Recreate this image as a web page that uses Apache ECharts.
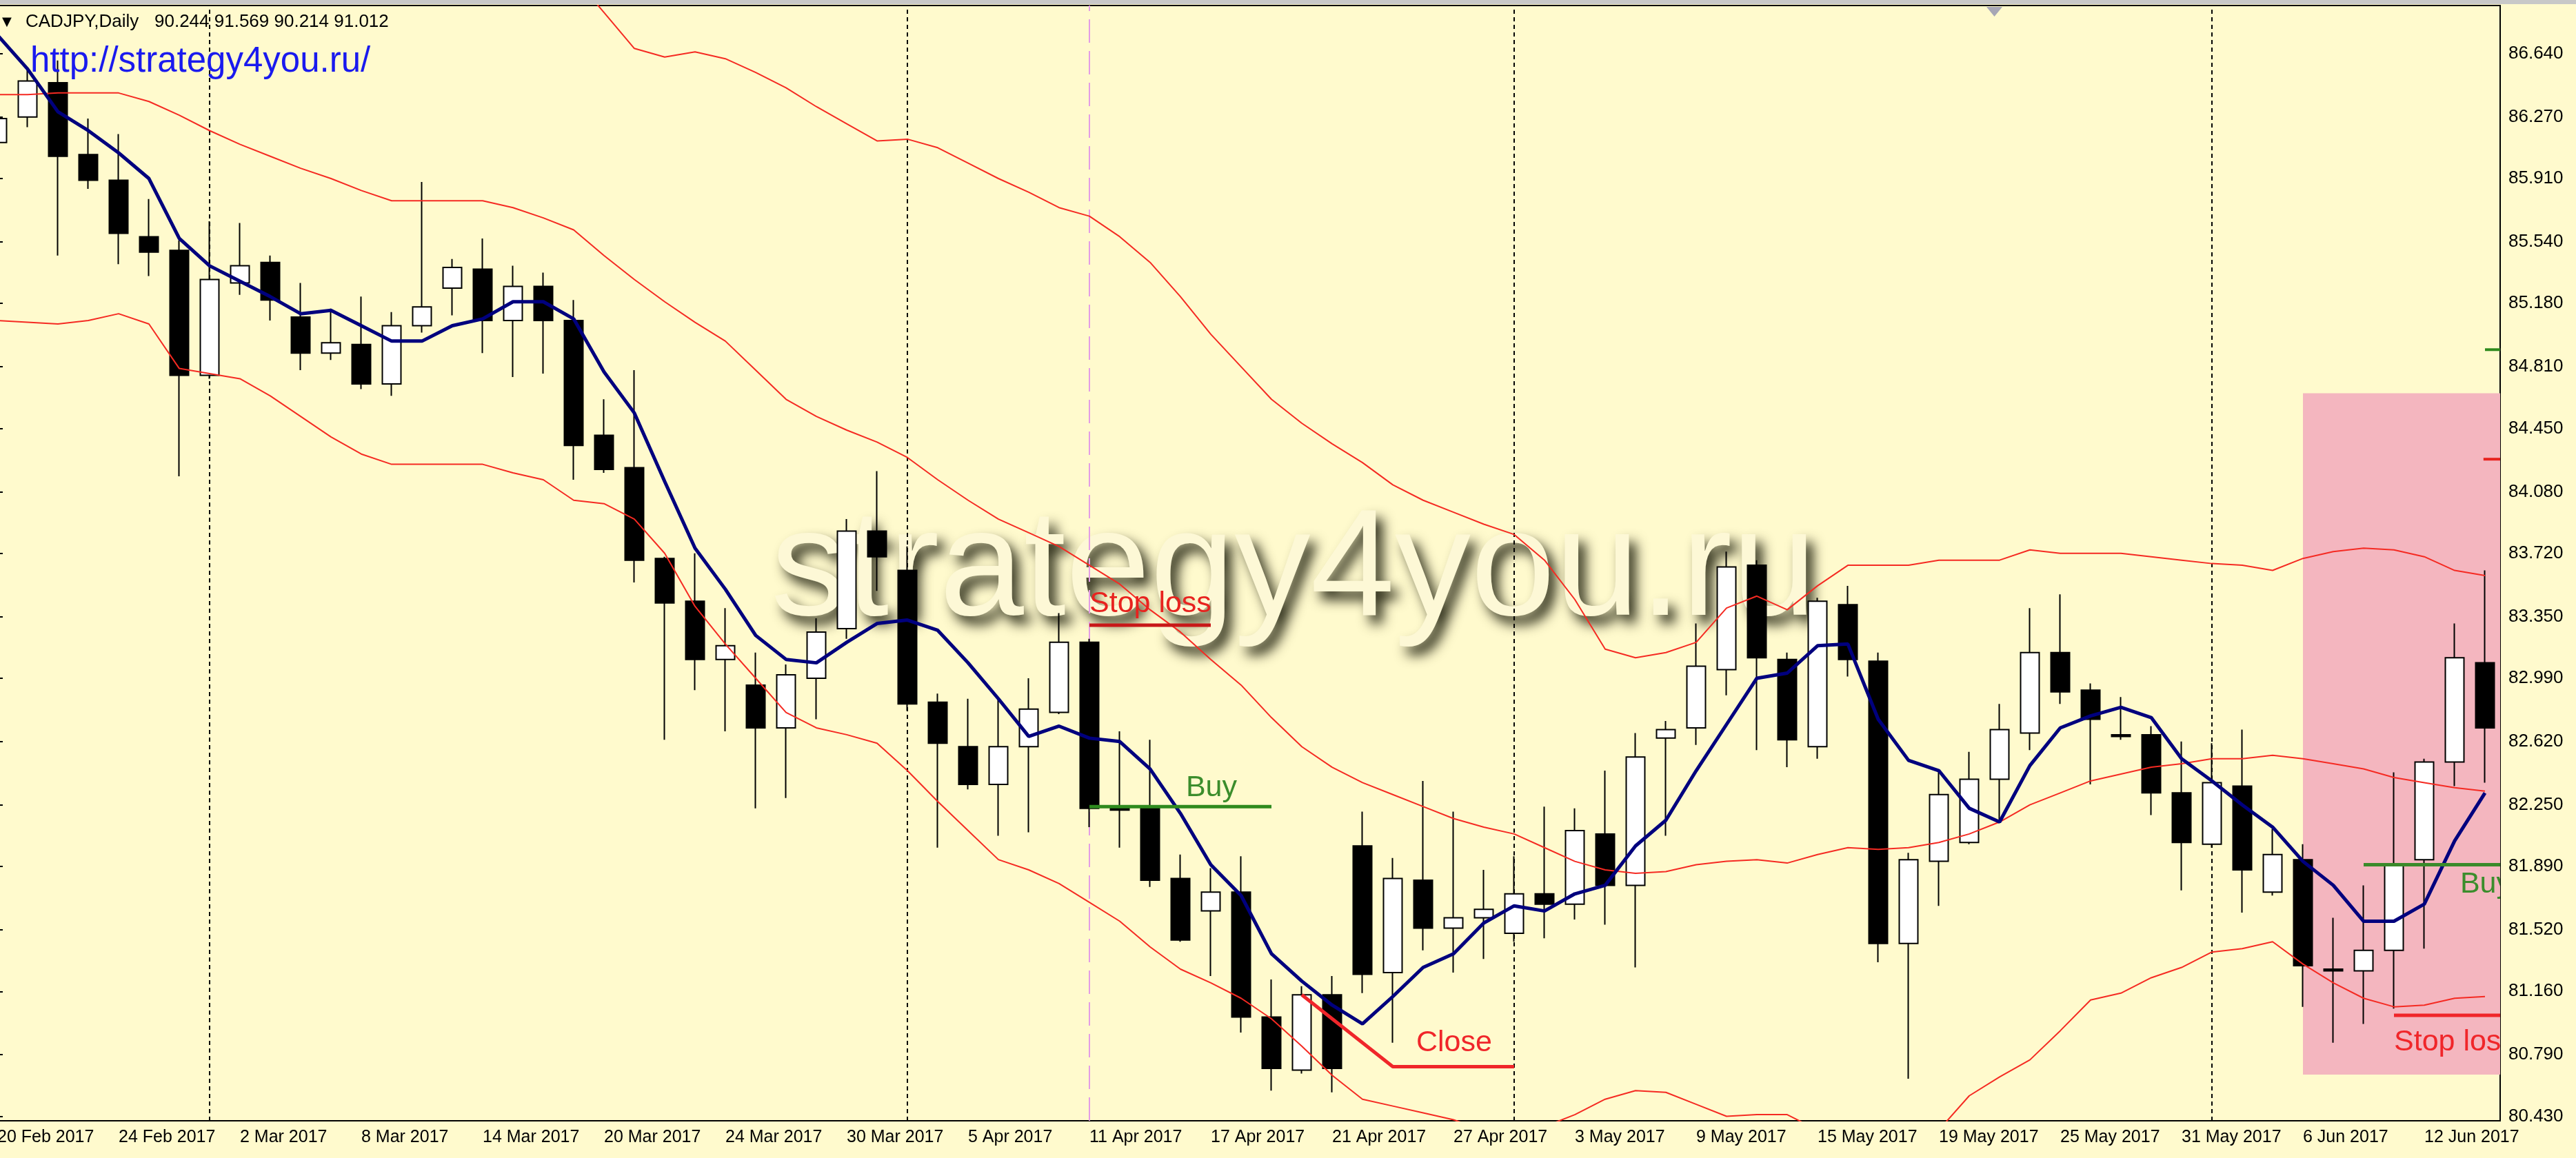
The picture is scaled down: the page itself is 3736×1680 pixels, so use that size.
<!DOCTYPE html>
<html>
<head>
<meta charset="utf-8">
<title>CADJPY, Daily</title>
<script src="https://cdn.jsdelivr.net/npm/echarts@6/dist/echarts.min.js"></script>
<style>
  html, body { margin: 0; padding: 0; background: #fffacd; overflow: hidden; }
  #chart { width: 3736px; height: 1680px; }
</style>
</head>
<body>
<div id="chart"></div>
<script>
// trading days shown on the chart
var dates = ['20 Feb 2017','21 Feb 2017','22 Feb 2017','23 Feb 2017','24 Feb 2017','27 Feb 2017','28 Feb 2017',
  '1 Mar 2017','2 Mar 2017','3 Mar 2017','6 Mar 2017','7 Mar 2017','8 Mar 2017','9 Mar 2017','10 Mar 2017',
  '13 Mar 2017','14 Mar 2017','15 Mar 2017','16 Mar 2017','17 Mar 2017','20 Mar 2017','21 Mar 2017','22 Mar 2017',
  '23 Mar 2017','24 Mar 2017','27 Mar 2017','28 Mar 2017','29 Mar 2017','30 Mar 2017','31 Mar 2017',
  '3 Apr 2017','4 Apr 2017','5 Apr 2017','6 Apr 2017','7 Apr 2017','10 Apr 2017','11 Apr 2017','12 Apr 2017',
  '13 Apr 2017','14 Apr 2017','17 Apr 2017','18 Apr 2017','19 Apr 2017','20 Apr 2017','21 Apr 2017','24 Apr 2017',
  '25 Apr 2017','26 Apr 2017','27 Apr 2017','28 Apr 2017',
  '1 May 2017','2 May 2017','3 May 2017','4 May 2017','5 May 2017','8 May 2017','9 May 2017','10 May 2017',
  '11 May 2017','12 May 2017','15 May 2017','16 May 2017','17 May 2017','18 May 2017','19 May 2017','22 May 2017',
  '23 May 2017','24 May 2017','25 May 2017','26 May 2017','29 May 2017','30 May 2017','31 May 2017',
  '1 Jun 2017','2 Jun 2017','5 Jun 2017','6 Jun 2017','7 Jun 2017','8 Jun 2017','9 Jun 2017','12 Jun 2017',
  '13 Jun 2017','14 Jun 2017'];

var opens = [86.12, 86.27, 86.47, 86.05, 85.90, 85.57, 85.49, 84.76, 85.30, 85.42,
  85.10, 84.89, 84.94, 84.71, 85.05, 85.27, 85.38, 85.08, 85.28, 85.08,
  84.41, 84.22, 83.69, 83.44, 83.10, 82.95, 82.70, 82.99, 83.28, 83.85,
  83.62, 82.85, 82.59, 82.37, 82.59, 82.79, 83.20, 82.24, 82.23, 81.82,
  81.63, 81.74, 81.01, 80.70, 81.14, 82.01, 81.27, 81.81, 81.53, 81.59,
  81.50, 81.73, 81.67, 82.08, 81.78, 82.64, 82.70, 83.04, 83.65, 83.10,
  82.59, 83.42, 83.09, 81.44, 81.92, 82.03, 82.40, 82.67, 83.14, 82.92,
  82.66, 82.66, 82.32, 82.02, 82.36, 81.74, 81.93, 81.29, 81.28, 81.40,
  81.93, 82.50, 83.08];
var closes = [86.26, 86.48, 86.04, 85.90, 85.59, 85.48, 84.76, 85.32, 85.40, 85.20,
  84.89, 84.95, 84.71, 85.05, 85.16, 85.39, 85.08, 85.28, 85.08, 84.35,
  84.21, 83.68, 83.43, 83.10, 83.18, 82.70, 83.01, 83.26, 83.85, 83.70,
  82.84, 82.61, 82.37, 82.59, 82.81, 83.20, 82.23, 82.22, 81.81, 81.46,
  81.74, 81.01, 80.71, 81.14, 80.71, 81.26, 81.82, 81.53, 81.59, 81.64,
  81.73, 81.67, 82.10, 81.78, 82.53, 82.69, 83.06, 83.64, 83.11, 82.63,
  83.44, 83.10, 81.44, 81.93, 82.31, 82.40, 82.69, 83.14, 82.91, 82.75,
  82.65, 82.32, 82.03, 82.38, 81.87, 81.96, 81.31, 81.28, 81.40, 81.90,
  82.50, 83.11, 82.70];
var lows = [86.08, 86.21, 85.46, 85.85, 85.41, 85.34, 84.17, 84.74, 85.23, 85.08,
  84.79, 84.85, 84.68, 84.64, 85.01, 85.11, 84.89, 84.75, 84.77, 84.15,
  84.19, 83.55, 82.63, 82.92, 82.68, 82.23, 82.29, 82.75, 83.22, 83.50,
  82.80, 82.00, 82.34, 82.07, 82.09, 82.78, 82.12, 82.00, 81.77, 81.45,
  81.25, 80.92, 80.58, 80.68, 80.57, 81.15, 80.86, 81.40, 81.27, 81.35,
  81.45, 81.47, 81.58, 81.55, 81.30, 82.07, 82.60, 82.89, 82.57, 82.47,
  82.52, 83.00, 81.33, 80.65, 81.66, 82.02, 82.16, 82.57, 82.84, 82.37,
  82.63, 82.19, 81.75, 82.00, 81.62, 81.72, 81.07, 80.86, 80.97, 81.06,
  81.41, 82.36, 82.38];
var highs = [86.30, 86.56, 86.60, 86.26, 86.17, 85.79, 85.55, 85.66, 85.65, 85.46,
  85.30, 85.15, 85.22, 85.13, 85.89, 85.44, 85.56, 85.40, 85.36, 85.20,
  84.62, 84.79, 83.70, 83.72, 83.40, 83.14, 83.07, 83.34, 83.92, 84.20,
  83.76, 82.90, 82.87, 82.87, 82.99, 83.37, 83.22, 82.68, 82.63, 81.96,
  81.88, 81.95, 81.23, 81.19, 81.25, 82.21, 81.94, 82.39, 82.21, 81.87,
  81.95, 82.24, 82.23, 82.45, 82.67, 82.74, 83.31, 83.73, 83.68, 83.14,
  83.46, 83.53, 83.14, 81.97, 82.45, 82.56, 82.84, 83.40, 83.48, 82.96,
  82.88, 82.71, 82.62, 82.61, 82.69, 82.11, 82.02, 81.59, 81.78, 82.44,
  82.52, 83.31, 83.62];

// moving average (navy)
var maLine = [86.75, 86.55, 86.30, 86.19, 86.06, 85.91, 85.56, 85.40, 85.31, 85.22,
  85.12, 85.14, 85.05, 84.96, 84.96, 85.05, 85.09, 85.19, 85.19, 85.09,
  84.78, 84.54, 84.14, 83.75, 83.51, 83.24, 83.10, 83.08, 83.20, 83.31,
  83.33, 83.27, 83.08, 82.87, 82.65, 82.71, 82.64, 82.62, 82.46, 82.20,
  81.90, 81.72, 81.38, 81.22, 81.08, 80.97, 81.13, 81.30, 81.38, 81.56,
  81.66, 81.63, 81.73, 81.78, 82.01, 82.16, 82.45, 82.72, 82.99, 83.02,
  83.18, 83.19, 82.75, 82.51, 82.45, 82.23, 82.15, 82.48, 82.70, 82.77,
  82.82, 82.76, 82.52, 82.39, 82.25, 82.12, 81.92, 81.78, 81.57, 81.57,
  81.67, 82.04, 82.32];

// bollinger bands (red)
var bbUpper = [null, null, null, null, null, null, null, null, null, null,
  null, null, null, null, null, null, null, null, 87.28, 87.09,
  86.88, 86.67, 86.62, 86.65, 86.61, 86.53, 86.44, 86.33, 86.23, 86.13,
  86.14, 86.09, 86.00, 85.91, 85.83, 85.74, 85.69, 85.57, 85.42, 85.22,
  85.00, 84.81, 84.62, 84.48, 84.36, 84.25, 84.12, 84.03, 83.96, 83.89,
  83.83, 83.68, 83.45, 83.16, 83.11, 83.14, 83.20, 83.40, 83.47, 83.39,
  83.53, 83.65, 83.65, 83.65, 83.68, 83.68, 83.68, 83.74, 83.72, 83.72,
  83.72, 83.70, 83.68, 83.66, 83.65, 83.62, 83.69, 83.73, 83.75, 83.74,
  83.70, 83.62, 83.59];
var bbMiddle = [86.40, 86.40, 86.41, 86.41, 86.41, 86.36, 86.28, 86.19, 86.11, 86.04,
  85.97, 85.91, 85.84, 85.78, 85.78, 85.78, 85.78, 85.74, 85.68, 85.61,
  85.46, 85.32, 85.19, 85.07, 84.96, 84.79, 84.62, 84.52, 84.44, 84.37,
  84.28, 84.15, 84.03, 83.92, 83.84, 83.76, 83.65, 83.54, 83.39, 83.26,
  83.10, 82.95, 82.76, 82.59, 82.47, 82.38, 82.31, 82.24, 82.17, 82.12,
  82.08, 82.00, 81.92, 81.87, 81.85, 81.86, 81.90, 81.92, 81.93, 81.91,
  81.96, 82.00, 81.99, 82.00, 82.03, 82.08, 82.15, 82.25, 82.32, 82.39,
  82.43, 82.47, 82.49, 82.52, 82.52, 82.54, 82.52, 82.49, 82.46, 82.41,
  82.38, 82.35, 82.33];
var bbLower = [85.08, 85.07, 85.06, 85.08, 85.12, 85.06, 84.80, 84.77, 84.74, 84.64,
  84.52, 84.40, 84.30, 84.24, 84.24, 84.24, 84.24, 84.19, 84.15, 84.03,
  84.01, 83.92, 83.72, 83.41, 83.19, 82.99, 82.79, 82.70, 82.66, 82.61,
  82.45, 82.27, 82.10, 81.93, 81.87, 81.79, 81.68, 81.57, 81.42, 81.29,
  81.21, 81.12, 81.00, 80.84, 80.67, 80.53, 80.49, 80.45, 80.41, 80.35,
  80.33, 80.37, 80.44, 80.53, 80.58, 80.57, 80.50, 80.43, 80.44, 80.44,
  80.35, 80.23, 80.15, 80.19, 80.35, 80.55, 80.66, 80.76, 80.93, 81.11,
  81.15, 81.24, 81.30, 81.39, 81.41, 81.45, 81.32, 81.21, 81.12, 81.07,
  81.08, 81.12, 81.13];

var yTicks = [80.430, 80.790, 81.160, 81.520, 81.890, 82.250, 82.620, 82.990, 83.350,
  83.720, 84.080, 84.450, 84.810, 85.180, 85.540, 85.910, 86.270, 86.640];

// month separators and the signal bar (bar indexes)
var monthStarts = [7, 30, 50, 73];
var signalBar = [36];

// hand drawn trade levels: [bar index, price]
var stopLoss1 = [[36, 83.30], [40, 83.30]];
var buy1 = [[36, 82.24], [42, 82.24]];
var closeLine = [[43, 81.14], [46, 80.72], [50, 80.72]];
var buy2 = [[78, 81.90], [82.5, 81.90]];
var stopLoss2 = [[79, 81.02], [82.5, 81.02]];
var zone = [[76, 84.655, 82.5, 80.674]];
var greenMark = [[82.0, 84.91], [82.5, 84.91]];
var redMark = [[81.95, 84.27], [82.5, 84.27]];

var noteTexts = ['Stop loss', 'Buy', 'Close', 'Buy', 'Stop loss'];
var noteAt = [[36, 83.425], [39.18, 82.348], [46.77, 80.86], [81.18, 81.784], [79.0, 80.862]];
var noteColors = ['#e8231f', '#3b8d2c', '#f0262a', '#3b8d2c', '#f0262a'];

var candles = dates.map(function (d, i) {
  return [opens[i], closes[i], lows[i], highs[i]];
});

var FONT = '"Liberation Sans", Arial, sans-serif';

function levelLine(data, color, width) {
  return {
    type: 'line', xAxisIndex: 1, yAxisIndex: 0, data: data,
    symbol: 'none', silent: true, z: 6,
    lineStyle: { color: color, width: width }
  };
}

var chart = echarts.init(document.getElementById('chart'), null, { renderer: 'canvas' });

chart.setOption({
  backgroundColor: '#fffacd',
  animation: false,
  grid: {
    left: -26, right: 110, top: 8, bottom: 54,
    outerBoundsMode: 'none',
    show: true, borderColor: '#000', borderWidth: 2, backgroundColor: 'transparent'
  },
  xAxis: [{
    type: 'category',
    data: dates,
    boundaryGap: true,
    axisLine: { lineStyle: { color: '#000', width: 2 } },
    axisTick: { interval: 3, alignWithLabel: true, length: 8, lineStyle: { color: '#000', width: 2 } },
    axisLabel: {
      interval: 3, align: 'left', margin: 12,
      color: '#000', fontSize: 25, fontFamily: FONT
    },
    splitLine: { show: false }
  }, {
    type: 'value', min: -0.5, max: 82.5, show: false
  }],
  yAxis: {
    type: 'value',
    position: 'right',
    min: 80.404, max: 86.921,
    splitLine: { show: false },
    axisLine: { show: true, lineStyle: { color: '#000', width: 2 } },
    axisTick: { show: true, length: 8, customValues: yTicks, lineStyle: { color: '#000', width: 2 } },
    axisLabel: {
      customValues: yTicks, margin: 12,
      formatter: function (v) { return v.toFixed(3); },
      color: '#000', fontSize: 26, fontFamily: FONT
    }
  },
  graphic: [
    { type: 'rect', shape: { x: 0, y: 0, width: 3736, height: 6 }, style: { fill: '#c8c8c8' }, z: 10 },
    { type: 'polygon', shape: { points: [[2881, 10], [2904, 10], [2892.5, 24]] }, style: { fill: '#a7a7b5' }, z: 10 },
    {
      type: 'text', x: 1118, y: 831, z: 1,
      style: {
        text: 'strategy4you.ru', font: '220px ' + FONT,
        fill: '#fdf8d6', align: 'left', verticalAlign: 'middle',
        textAlign: 'left', textVerticalAlign: 'middle',
        textShadowColor: 'rgba(45,45,25,1)', textShadowBlur: 18,
        textShadowOffsetX: 10, textShadowOffsetY: 12
      }
    },
    {
      type: 'text', x: 3, y: 32, z: 10,
      style: { text: '\u25BC', font: '18px "DejaVu Sans"', fill: '#000', align: 'left', verticalAlign: 'middle', textAlign: 'left', textVerticalAlign: 'middle' }
    },
    {
      type: 'text', x: 37, y: 32, z: 10,
      style: { text: 'CADJPY,Daily', font: '26px ' + FONT, fill: '#000', align: 'left', verticalAlign: 'middle', textAlign: 'left', textVerticalAlign: 'middle' }
    },
    {
      type: 'text', x: 224, y: 32, z: 10,
      style: { text: '90.244 91.569 90.214 91.012', font: '26px ' + FONT, fill: '#000', align: 'left', verticalAlign: 'middle', textAlign: 'left', textVerticalAlign: 'middle' }
    },
    {
      type: 'text', x: 44, y: 90, z: 10,
      style: { text: 'http://strategy4you.ru/', font: '51px ' + FONT, fill: '#1a1aee', align: 'left', verticalAlign: 'middle', textAlign: 'left', textVerticalAlign: 'middle' }
    }
  ],
  series: [
    {
      // pink zone
      type: 'custom', xAxisIndex: 1, yAxisIndex: 0, data: zone, z: 1, silent: true,
      renderItem: function (params, api) {
        var p1 = api.coord([api.value(0), api.value(1)]);
        var p2 = api.coord([api.value(2), api.value(3)]);
        return { type: 'rect', shape: { x: p1[0], y: p1[1], width: p2[0] - p1[0], height: p2[1] - p1[1] }, style: { fill: '#f4b6bf' } };
      }
    },
    {
      // period separators, kept under the candles
      type: 'line', xAxisIndex: 1, yAxisIndex: 0, data: [], z: 2, silent: true,
      markLine: {
        z: 2,
        symbol: 'none', silent: true, label: { show: false },
        data: monthStarts.map(function (b) {
          return { xAxis: b, lineStyle: { color: '#000', width: 2, type: [6, 5] } };
        }).concat(signalBar.map(function (b) {
          return { xAxis: b, lineStyle: { color: '#e39de6', width: 2, type: [34, 12] } };
        }))
      }
    },
    {
      name: 'CADJPY', type: 'candlestick', data: candles, z: 3, barWidth: 28,
      itemStyle: { color: '#ffffff', color0: '#000000', borderColor: '#000000', borderColor0: '#000000', borderWidth: 2 }
    },
    { type: 'line', data: bbUpper, symbol: 'none', z: 4, silent: true, lineStyle: { color: '#f52a22', width: 2 } },
    { type: 'line', data: bbMiddle, symbol: 'none', z: 4, silent: true, lineStyle: { color: '#f52a22', width: 2 } },
    { type: 'line', data: bbLower, symbol: 'none', z: 4, silent: true, lineStyle: { color: '#f52a22', width: 2 } },
    { type: 'line', data: maLine, symbol: 'none', z: 5, silent: true, lineStyle: { color: '#00007e', width: 5 } },
    levelLine(stopLoss1, '#c81818', 5),
    levelLine(buy1, '#2e8a1e', 5),
    levelLine(closeLine, '#f0262a', 5),
    levelLine(buy2, '#3a8a2a', 5),
    levelLine(stopLoss2, '#f0262a', 5),
    levelLine(greenMark, '#2e8a1e', 4),
    levelLine(redMark, '#e8231f', 4),
    {
      // trade notes
      type: 'custom', xAxisIndex: 1, yAxisIndex: 0, data: noteAt, z: 7, clip: true, silent: true,
      renderItem: function (params, api) {
        var i = params.dataIndex;
        var p = api.coord([api.value(0), api.value(1)]);
        return {
          type: 'text', x: p[0], y: p[1],
          style: {
            text: noteTexts[i], font: '43px ' + FONT, fill: noteColors[i],
            align: 'left', verticalAlign: 'middle', textAlign: 'left', textVerticalAlign: 'middle'
          }
        };
      }
    }
  ]
});
</script>
</body>
</html>
